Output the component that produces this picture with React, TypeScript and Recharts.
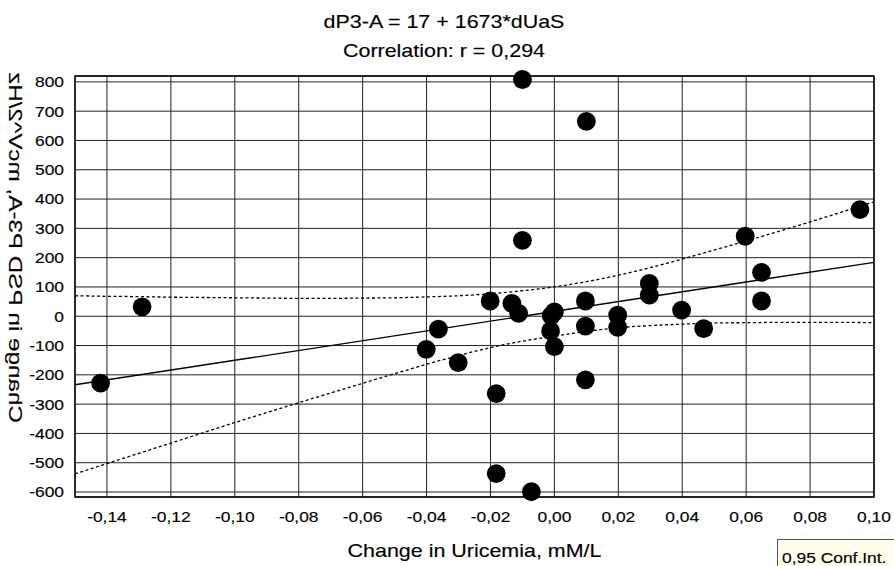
import React from "react";
import {
  ComposedChart,
  Scatter,
  Line,
  XAxis,
  YAxis,
  CartesianGrid,
  ReferenceArea,
} from "recharts";

// ---- data ----
const pointX = [
  -0.142, -0.129, -0.010, 0.010, -0.010, 0.0956, 0.0597, 0.0648, 0.0648, 0.0297,
  0.0297, -0.0201, -0.0133, -0.0112, 0.000, -0.001, -0.0012, 0.000, 0.0097, 0.0097,
  0.0097, 0.0198, 0.0198, 0.0398, 0.0467, -0.0363, -0.0401, -0.0301, -0.0182, -0.0182,
  -0.0072,
];
const pointY = [
  -228, 32, 808, 665, 259, 364, 273, 150, 52, 112,
  72, 52, 44, 10, 15, 2, -50, -104, 52, -34,
  -217, 4, -38, 21, -42, -44, -113, -158, -264, -537,
  -599,
];

const regX = [-0.15, 0.1];
const regY = [-234, 184];

const bandX = [
  -0.15, -0.14, -0.13, -0.12, -0.11, -0.1, -0.09, -0.08, -0.07, -0.06, -0.05, -0.04, -0.03,
  -0.02, -0.01, 0.0, 0.01, 0.02, 0.03, 0.04, 0.05, 0.06, 0.07, 0.08, 0.09, 0.1,
];
const bandUpper = [
  70, 68, 67, 65, 64, 63, 62, 61, 61, 62, 63, 66, 70,
  77, 87, 100, 118, 140, 166, 195, 226, 257, 289, 322, 356, 390,
];
const bandLower = [
  -538, -503, -468, -433, -398, -363, -329, -295, -262, -229, -196, -164, -134,
  -107, -85, -68, -52, -39, -32, -27, -23, -22, -21, -21, -21, -22,
];

const xTicks = [-0.14, -0.12, -0.1, -0.08, -0.06, -0.04, -0.02, 0, 0.02, 0.04, 0.06, 0.08, 0.1];
const yTicks = [-600, -500, -400, -300, -200, -100, 0, 100, 200, 300, 400, 500, 600, 700, 800];
const xDomain = [-0.15, 0.1];
const yDomain = [-617, 820];

const titleLine1 = "dP3-A = 17 + 1673*dUaS";
const titleLine2 = "Correlation: r = 0,294";
const xLabel = "Change in Uricemia, mM/L";
const yLabel = "Change in PSD P3-A, mcV^2/Hz";
const legendLabel = "0,95 Conf.Int.";

// ---- derived tables ----
const points = pointX.map((x, i) => ({ x, y: pointY[i] }));
const regData = regX.map((x, i) => ({ x, y: regY[i] }));
const upperData = bandX.map((x, i) => ({ x, y: bandUpper[i] }));
const lowerData = bandX.map((x, i) => ({ x, y: bandLower[i] }));

const FONT = "'Liberation Sans', Arial, sans-serif";
const SX = 1.16;

function SText(props: any) {
  const { x, y, anchor = "middle", size, dy, children } = props;
  return (
    <text
      transform={`translate(${x},${y}) scale(${SX},1)`}
      textAnchor={anchor}
      fontSize={size}
      fontFamily={FONT}
      fill="#000"
      stroke="#000"
      strokeWidth={0.15}
      dy={dy}
    >
      {children}
    </text>
  );
}

const fmt = (v: number) => v.toFixed(2).replace(".", ",").replace("-0,00", "0,00");

function XTick(props: any) {
  const { x, payload } = props;
  return <SText x={x} y={522} size={15}>{fmt(payload.value)}</SText>;
}

function YTick(props: any) {
  const { y, payload } = props;
  return (
    <SText x={64} y={y} anchor="end" size={15} dy="0.36em">
      {String(payload.value)}
    </SText>
  );
}

const Dot = (p: any) => <circle cx={p.cx} cy={p.cy} r={9.4} fill="#000" />;

export default function App() {
  return (
    <div style={{ position: "absolute", left: 0, top: 0, width: 894, height: 566, background: "#fff" }}>
      <ComposedChart
        width={894}
        height={566}
        margin={{ top: 76, right: 20, bottom: 0, left: 0 }}
      >
        <CartesianGrid stroke="#222" strokeWidth={1} />
        <XAxis
          type="number"
          dataKey="x"
          domain={xDomain}
          ticks={xTicks}
          height={69}
          tick={<XTick />}
          tickLine={false}
          axisLine={false}
          interval={0}
        />
        <YAxis
          type="number"
          dataKey="y"
          domain={yDomain}
          ticks={yTicks}
          width={75}
          tick={<YTick />}
          tickLine={false}
          axisLine={false}
          interval={0}
        />
        <ReferenceArea
          x1={xDomain[0]}
          x2={xDomain[1]}
          y1={yDomain[0]}
          y2={yDomain[1]}
          fill="none"
          stroke="#000"
          strokeWidth={1.4}
          fillOpacity={0}
        />
        <Line
          data={upperData}
          dataKey="y"
          type="monotone"
          stroke="#000"
          strokeWidth={1.3}
          strokeDasharray="3 2.5"
          dot={false}
          isAnimationActive={false}
        />
        <Line
          data={lowerData}
          dataKey="y"
          type="monotone"
          stroke="#000"
          strokeWidth={1.3}
          strokeDasharray="3 2.5"
          dot={false}
          isAnimationActive={false}
        />
        <Line
          data={regData}
          dataKey="y"
          type="linear"
          stroke="#000"
          strokeWidth={1.4}
          dot={false}
          isAnimationActive={false}
        />
        <Scatter data={points} dataKey="y" shape={Dot} isAnimationActive={false} />
      </ComposedChart>
      <svg
        width={894}
        height={566}
        style={{ position: "absolute", left: 0, top: 0, pointerEvents: "none" }}
      >
        <SText x={444} y={28} size={18.5}>{titleLine1}</SText>
        <SText x={444} y={57} size={18.5}>{titleLine2}</SText>
        <SText x={474.5} y={557} size={18.5}>{xLabel}</SText>
        <text
          transform="translate(9,247.5) scale(-1,1) rotate(-90)"
          textAnchor="middle"
          fontSize={19}
          fontFamily={FONT}
          textLength={351}
          lengthAdjust="spacingAndGlyphs"
          fill="#000"
          stroke="#000"
          strokeWidth={0.15}
        >
          {yLabel}
        </text>
        <rect x={777.5} y={539.5} width={130} height={30} fill="#FFFCEA" stroke="#555" strokeWidth={1} />
        <SText x={782} y={563} anchor="start" size={15}>{legendLabel}</SText>
      </svg>
    </div>
  );
}
